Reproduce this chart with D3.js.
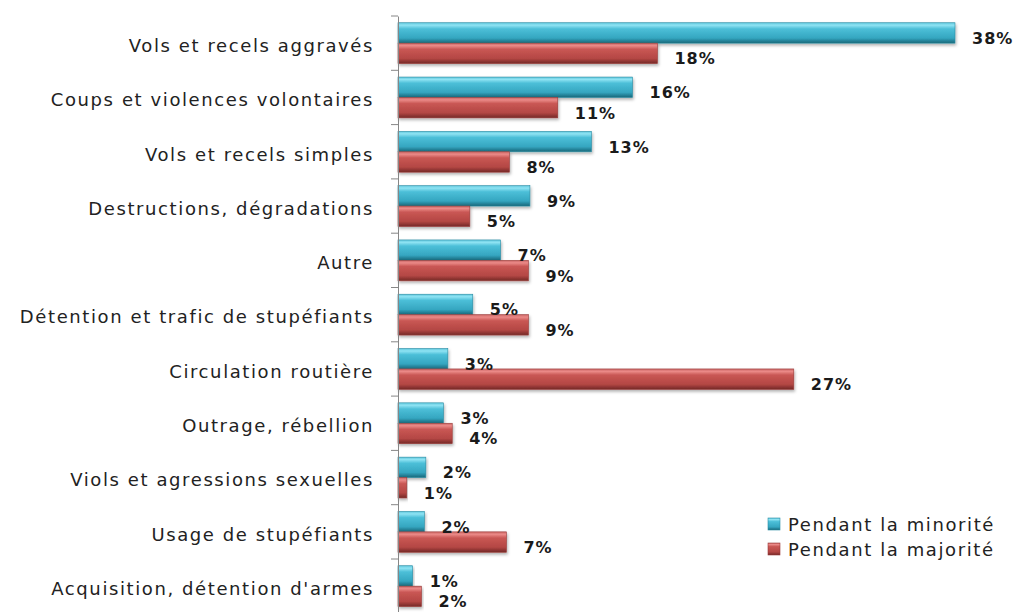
<!DOCTYPE html>
<html>
<head>
<meta charset="utf-8">
<script src="https://cdn.jsdelivr.net/npm/d3@7"></script>
<style>
  body { margin: 0; background: #fff; }
  svg { display: block; }
</style>
</head>
<body>
<div id="chart"></div>
<script>
const categories = [
  "Vols et recels aggravés",
  "Coups et violences volontaires",
  "Vols et recels simples",
  "Destructions, dégradations",
  "Autre",
  "Détention et trafic de stupéfiants",
  "Circulation routière",
  "Outrage, rébellion",
  "Viols et agressions sexuelles",
  "Usage de stupéfiants",
  "Acquisition, détention d'armes"
];
const minorite = [38.0, 16.0, 13.2, 9.0, 7.0, 5.1, 3.4, 3.1, 1.9, 1.8, 1.0];
const majorite = [17.7, 10.9, 7.6, 4.9, 8.9, 8.9, 27.0, 3.7, 0.6, 7.4, 1.6];
const labelsMin = ["38%", "16%", "13%", "9%", "7%", "5%", "3%", "3%", "2%", "2%", "1%"];
const labelsMaj = ["18%", "11%", "8%", "5%", "9%", "9%", "27%", "4%", "1%", "7%", "2%"];
const seriesNames = ["Pendant la minorité", "Pendant la majorité"];

const width = 1019, height = 612;
const x0 = 398, plotTop = 16, band = 54.3;

const svg = d3.select("#chart").append("svg")
    .attr("width", width)
    .attr("height", height);

const defs = svg.append("defs");

function grad(id, stops) {
  const g = defs.append("linearGradient")
      .attr("id", id)
      .attr("x1", 0).attr("y1", 0).attr("x2", 0).attr("y2", 1);
  stops.forEach(s => g.append("stop").attr("offset", s[0]).attr("stop-color", s[1]));
}
grad("gBlue", [[0, "#5fc7dd"], [0.12, "#8fe3f3"], [0.3, "#4cbfd8"], [0.75, "#35a6c0"], [0.9, "#237f95"], [1, "#1b6878"]]);
grad("gRed", [[0, "#c96563"], [0.12, "#eb8a88"], [0.3, "#c95754"], [0.75, "#b44744"], [0.9, "#8d3432"], [1, "#742a28"]]);

const shadow = defs.append("filter").attr("id", "shadow")
    .attr("x", "-5%").attr("y", "-20%").attr("width", "115%").attr("height", "170%");
shadow.append("feDropShadow")
    .attr("dx", 1).attr("dy", 2).attr("stdDeviation", 1.5)
    .attr("flood-color", "#000").attr("flood-opacity", 0.3);

const x = d3.scaleLinear().domain([0, 38]).range([x0, 955]);
const y = d3.scaleBand().domain(categories).range([plotTop, plotTop + band * categories.length]);
const sub = d3.scaleBand().domain([0, 1]).range([0, band]).paddingOuter(0.33);

const colors = ["url(#gBlue)", "url(#gRed)"];
const edge = ["#2a8ca3", "#9a3b39"];

const rows = categories.map((c, i) => ({
  cat: c,
  vals: [minorite[i], majorite[i]],
  labels: [labelsMin[i], labelsMaj[i]]
}));

const barLayer = svg.append("g");
const labelLayer = svg.append("g");

const rowBars = barLayer.selectAll("g")
  .data(rows)
  .join("g")
    .attr("transform", d => `translate(0,${y(d.cat)})`);

const rowLabels = labelLayer.selectAll("g")
  .data(rows)
  .join("g")
    .attr("transform", d => `translate(0,${y(d.cat)})`);

[0, 1].forEach(s => {
  rowBars.append("rect")
      .attr("x", x(0))
      .attr("y", sub(s))
      .attr("width", d => x(d.vals[s]) - x(0))
      .attr("height", sub.bandwidth())
      .attr("fill", colors[s])
      .attr("stroke", edge[s])
      .attr("stroke-width", 0.6)
      .attr("filter", "url(#shadow)");

  rowLabels.append("text")
      .attr("x", d => x(d.vals[s]) + 17)
      .attr("y", sub(s) + sub.bandwidth() / 2 + 5.5)
      .attr("dominant-baseline", "central")
      .attr("font-family", "DejaVu Sans, sans-serif")
      .attr("font-weight", "bold")
      .attr("font-size", 16)
      .attr("letter-spacing", 1)
      .attr("fill", "#1a1a1a")
      .text(d => d.labels[s]);
});

// axis
const yAxis = d3.axisLeft(y).tickSize(0).tickPadding(24);
const ax = svg.append("g")
    .attr("transform", `translate(${x0},0)`)
    .call(yAxis);
ax.select(".domain").attr("stroke", "#868686");
ax.selectAll(".tick text")
    .attr("dy", "0.32em")
    .attr("y", 3)
    .attr("font-family", "DejaVu Sans, sans-serif")
    .attr("font-size", 18)
    .attr("letter-spacing", 1.6)
    .attr("fill", "#222");

// boundary tick marks
const bounds = d3.range(categories.length + 1).map(i => plotTop + band * i);
svg.append("g").selectAll("line")
  .data(bounds)
  .join("line")
    .attr("x1", x0 - 7).attr("x2", x0)
    .attr("y1", d => d).attr("y2", d => d)
    .attr("stroke", "#868686");

// legend
const legend = svg.append("g").attr("transform", "translate(768,524)");
seriesNames.forEach((n, i) => {
  const lg = legend.append("g").attr("transform", `translate(0,${i * 25})`);
  lg.append("rect")
      .attr("x", 0).attr("y", -6)
      .attr("width", 12).attr("height", 12)
      .attr("fill", colors[i])
      .attr("stroke", edge[i]).attr("stroke-width", 0.6);
  lg.append("text")
      .attr("x", 20).attr("y", 0)
      .attr("dominant-baseline", "central")
      .attr("font-family", "DejaVu Sans, sans-serif")
      .attr("font-size", 18)
      .attr("letter-spacing", 1.6)
      .attr("fill", "#222")
      .text(n);
});
</script>
</body>
</html>
